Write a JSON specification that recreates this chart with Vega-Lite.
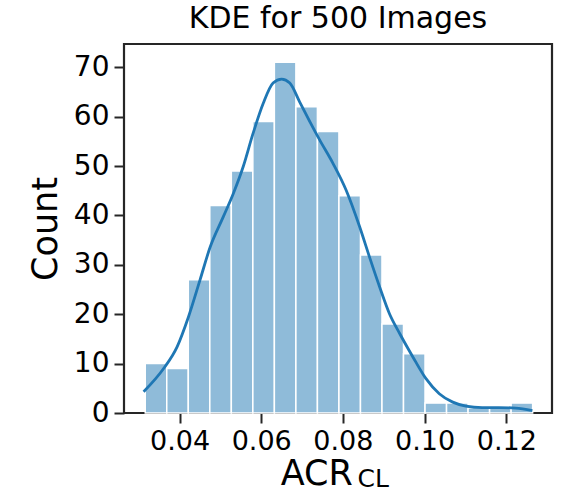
{
  "$schema": "https://vega.github.io/schema/vega-lite/v6.json",
  "autosize": "none",
  "width": 428,
  "height": 369,
  "padding": {"left": 124, "top": 44, "right": 10, "bottom": 80},
  "background": "white",
  "title": {
    "text": "KDE for 500 Images",
    "font": "DejaVu Sans",
    "fontSize": 30,
    "fontWeight": "normal",
    "color": "black",
    "anchor": "middle",
    "baseline": "alphabetic",
    "offset": 14,
    "dy": 28
  },
  "config": {
    "font": "DejaVu Sans",
    "view": {"stroke": "#262626", "strokeWidth": 2.2},
    "axis": {
      "domain": false,
      "grid": false,
      "tickColor": "#262626",
      "tickWidth": 2,
      "tickSize": 10,
      "labelFont": "DejaVu Sans",
      "labelFontSize": 27,
      "labelColor": "black",
      "labelPadding": 5,
      "titleFont": "DejaVu Sans",
      "titleFontWeight": "normal",
      "titleColor": "black"
    }
  },
  "datasets": {
    "bins": [
      {"bin_start": 0.03160, "bin_end": 0.03687, "count": 10},
      {"bin_start": 0.03687, "bin_end": 0.04214, "count": 9},
      {"bin_start": 0.04214, "bin_end": 0.04741, "count": 27},
      {"bin_start": 0.04741, "bin_end": 0.05268, "count": 42},
      {"bin_start": 0.05268, "bin_end": 0.05795, "count": 49},
      {"bin_start": 0.05795, "bin_end": 0.06322, "count": 59},
      {"bin_start": 0.06322, "bin_end": 0.06849, "count": 71},
      {"bin_start": 0.06849, "bin_end": 0.07376, "count": 62},
      {"bin_start": 0.07376, "bin_end": 0.07903, "count": 57},
      {"bin_start": 0.07903, "bin_end": 0.08430, "count": 44},
      {"bin_start": 0.08430, "bin_end": 0.08957, "count": 32},
      {"bin_start": 0.08957, "bin_end": 0.09484, "count": 18},
      {"bin_start": 0.09484, "bin_end": 0.10011, "count": 12},
      {"bin_start": 0.10011, "bin_end": 0.10538, "count": 2},
      {"bin_start": 0.10538, "bin_end": 0.11065, "count": 2},
      {"bin_start": 0.11065, "bin_end": 0.11592, "count": 1},
      {"bin_start": 0.11592, "bin_end": 0.12119, "count": 1},
      {"bin_start": 0.12119, "bin_end": 0.12646, "count": 2}
    ],
    "kde": [
      {"acr": 0.0312, "density": 4.3},
      {"acr": 0.0361, "density": 9.0},
      {"acr": 0.0394, "density": 13.4},
      {"acr": 0.0422, "density": 19.5},
      {"acr": 0.0450, "density": 26.9},
      {"acr": 0.0475, "density": 33.6},
      {"acr": 0.0507, "density": 39.7},
      {"acr": 0.0532, "density": 44.5},
      {"acr": 0.0556, "density": 49.9},
      {"acr": 0.0580, "density": 56.6},
      {"acr": 0.0605, "density": 62.7},
      {"acr": 0.0629, "density": 66.8},
      {"acr": 0.0650, "density": 67.6},
      {"acr": 0.0670, "density": 66.8},
      {"acr": 0.0694, "density": 63.0},
      {"acr": 0.0719, "density": 59.0},
      {"acr": 0.0743, "density": 55.3},
      {"acr": 0.0776, "density": 50.5},
      {"acr": 0.0808, "density": 45.1},
      {"acr": 0.0841, "density": 37.7},
      {"acr": 0.0865, "density": 31.6},
      {"acr": 0.0890, "density": 25.5},
      {"acr": 0.0914, "density": 20.1},
      {"acr": 0.0939, "density": 16.1},
      {"acr": 0.0971, "density": 11.4},
      {"acr": 0.1003, "density": 7.0},
      {"acr": 0.1036, "density": 3.9},
      {"acr": 0.1069, "density": 2.2},
      {"acr": 0.1101, "density": 1.4},
      {"acr": 0.1141, "density": 1.1},
      {"acr": 0.1182, "density": 1.1},
      {"acr": 0.1223, "density": 1.0},
      {"acr": 0.1264, "density": 0.5}
    ]
  },
  "layer": [
    {
      "data": {"name": "bins"},
      "mark": {"type": "rect", "color": "#8fbbd9", "stroke": "white", "strokeWidth": 1.5},
      "encoding": {
        "x": {
          "field": "bin_start",
          "type": "quantitative",
          "scale": {"domain": [0.0264, 0.1312], "nice": false, "zero": false},
          "axis": {"values": [0.04, 0.06, 0.08, 0.10, 0.12], "format": ".2f", "title": null}
        },
        "x2": {"field": "bin_end"},
        "y": {
          "field": "count",
          "type": "quantitative",
          "scale": {"domain": [0, 74.7], "nice": false},
          "axis": {"values": [0, 10, 20, 30, 40, 50, 60, 70], "title": "Count", "titleFontSize": 35, "titlePadding": 10, "labelFontSize": 28}
        },
        "y2": {"datum": 0}
      }
    },
    {
      "data": {"name": "kde"},
      "mark": {"type": "line", "color": "#1f77b4", "strokeWidth": 2.8, "interpolate": "monotone"},
      "encoding": {
        "x": {"field": "acr", "type": "quantitative"},
        "y": {"field": "density", "type": "quantitative"}
      }
    },
    {
      "data": {"values": [{}]},
      "mark": {"type": "text", "text": "ACR", "font": "DejaVu Sans", "fontSize": 35, "align": "center", "baseline": "alphabetic", "color": "black"},
      "encoding": {
        "x": {"datum": 0.0736, "type": "quantitative"},
        "y": {"datum": -14.5, "type": "quantitative"}
      }
    },
    {
      "data": {"values": [{}]},
      "mark": {"type": "text", "text": "CL", "font": "DejaVu Sans", "fontSize": 25, "align": "left", "baseline": "alphabetic", "color": "black"},
      "encoding": {
        "x": {"datum": 0.0836, "type": "quantitative"},
        "y": {"datum": -15.0, "type": "quantitative"}
      }
    }
  ]
}
